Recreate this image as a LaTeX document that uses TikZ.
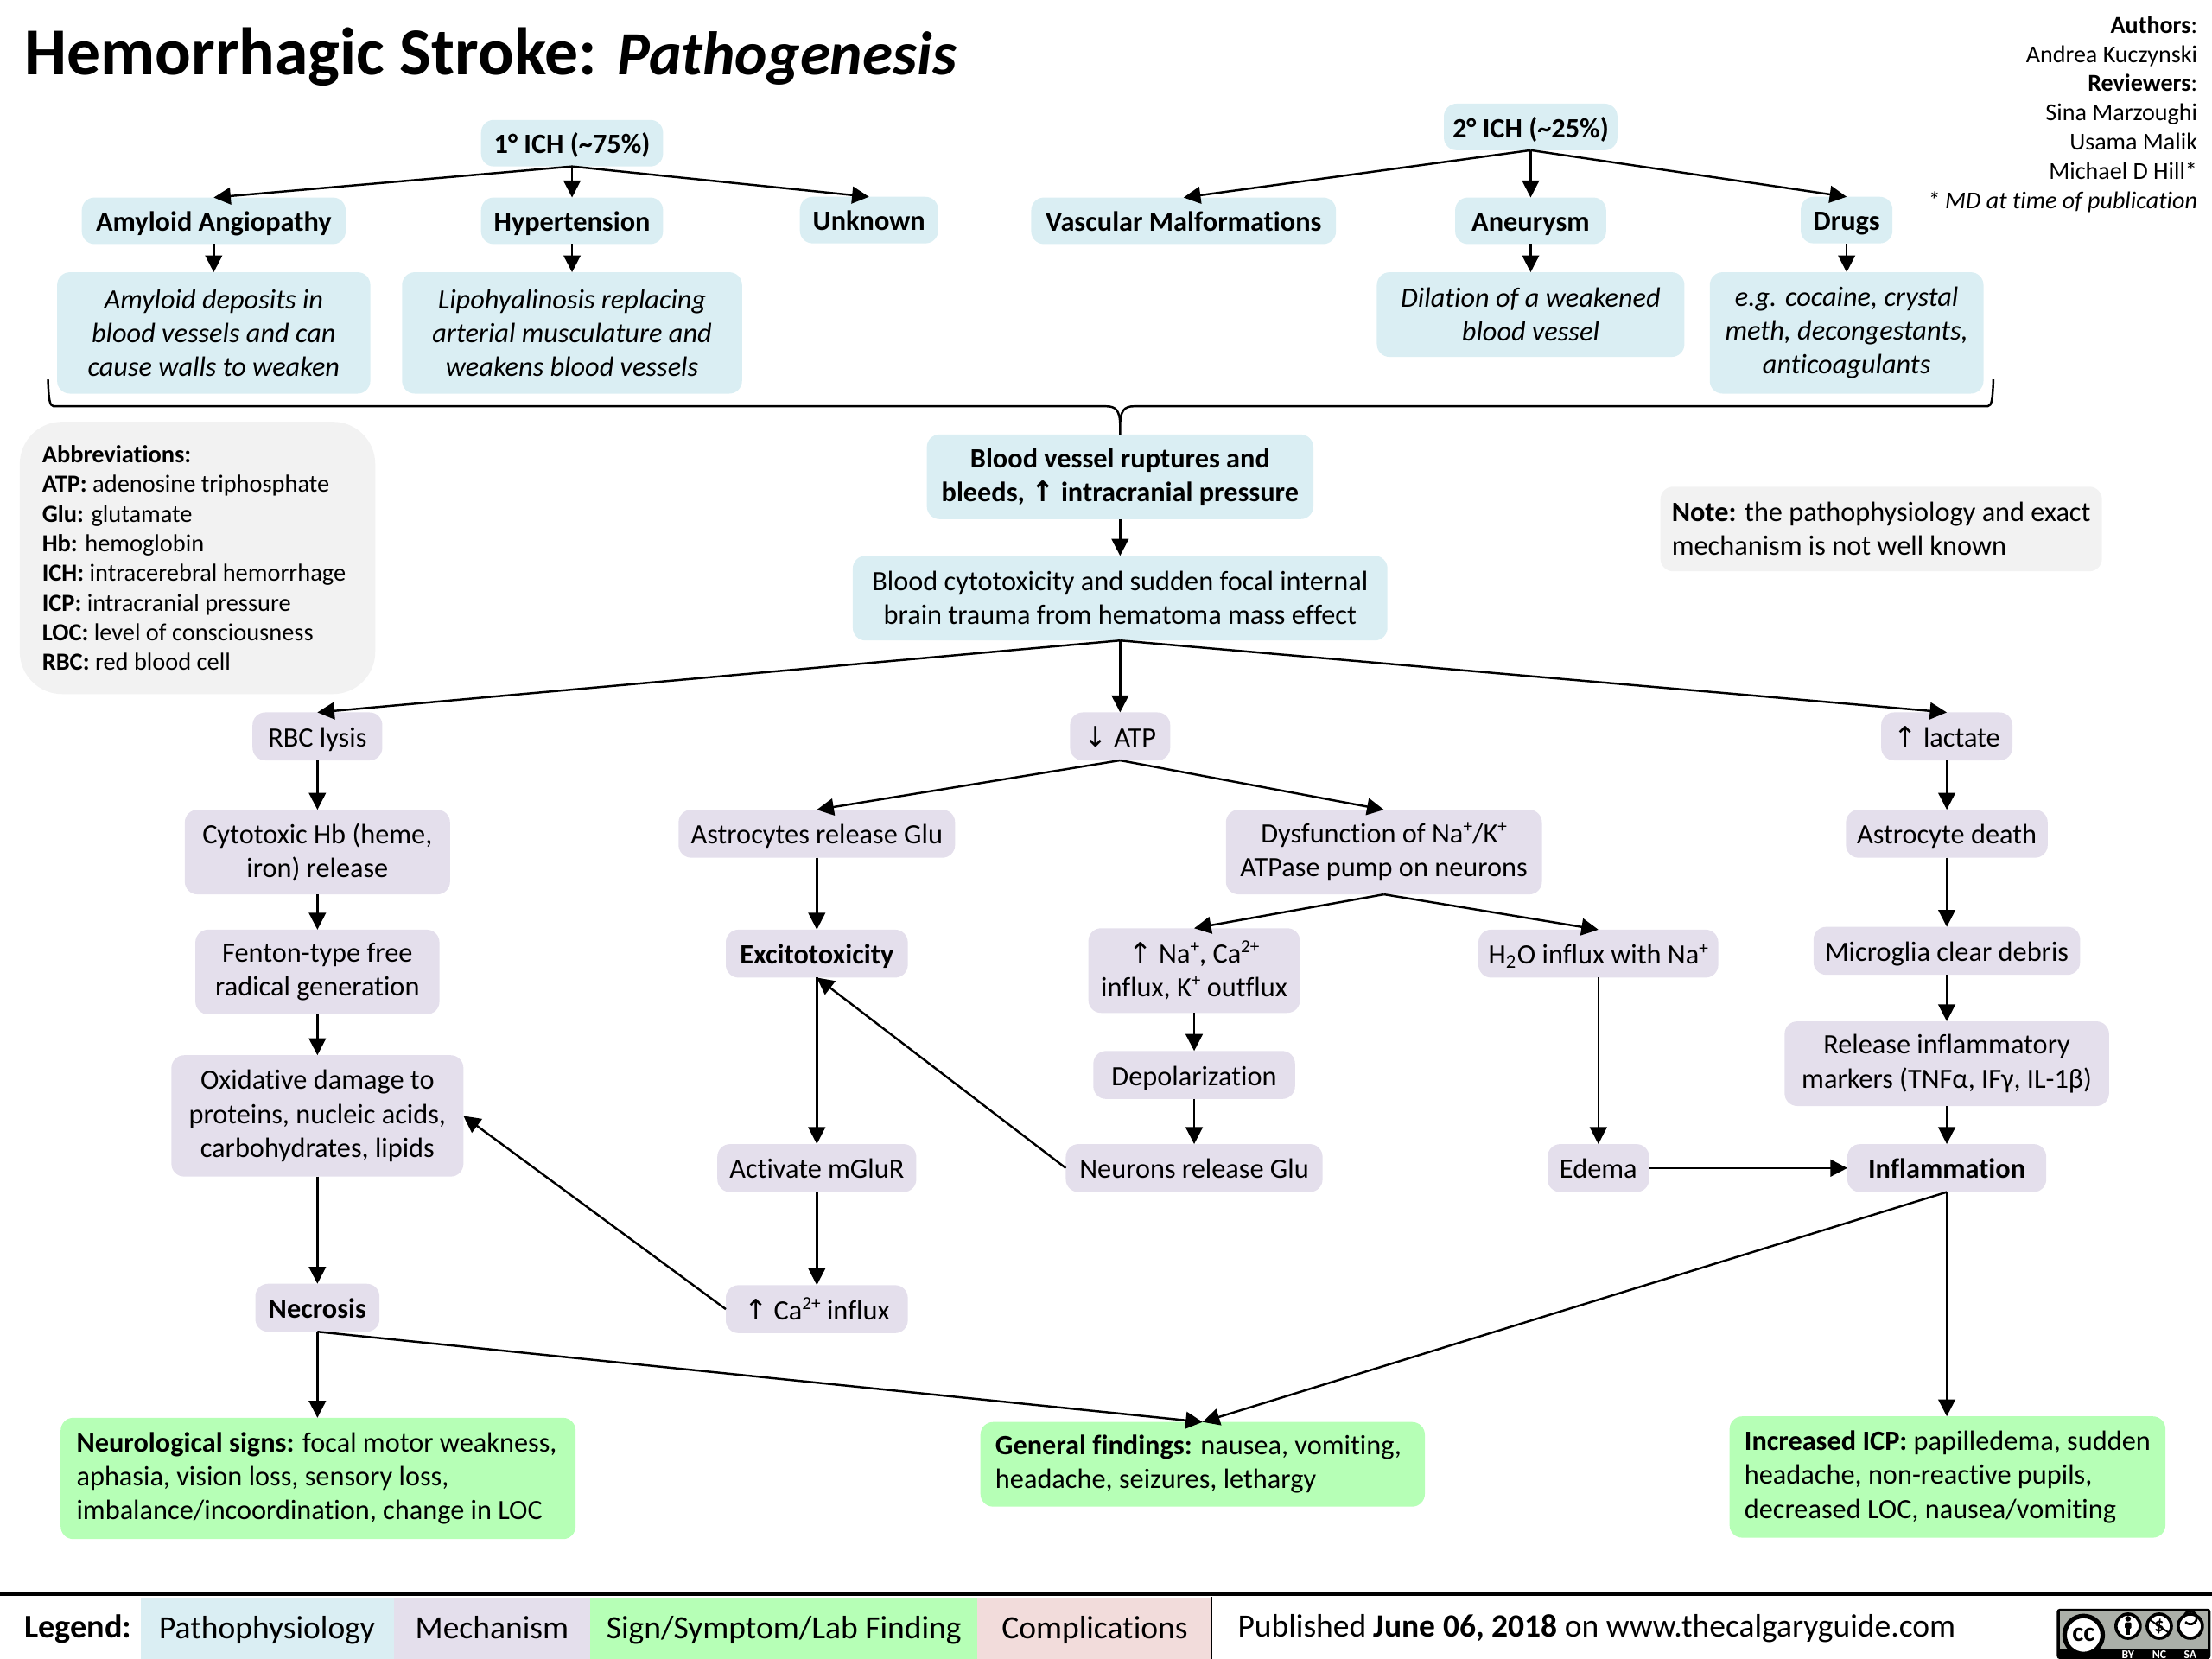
\documentclass[tikz,border=0pt]{standalone}
\usepackage{fontspec}
\setmainfont[Ligatures=NoCommon]{Carlito}
\newfontfamily\symfont{DejaVu Sans}
\usepackage{xcolor}
\usetikzlibrary{arrows.meta, positioning}

\definecolor{pathoblue}{HTML}{DAEEF3}
\definecolor{mechpurple}{HTML}{E4DFEC}
\definecolor{signgreen}{HTML}{B6FFB6}
\definecolor{comppink}{HTML}{F2DCDB}
\definecolor{notegrey}{HTML}{F2F2F2}
\definecolor{badgegrey}{HTML}{ABAFA8}
\newcommand{\arrup}{{\symfont\fontsize{10}{12}\selectfont ↑}}
\newcommand{\arrdown}{{\symfont\fontsize{10}{12}\selectfont ↓}}
\newcommand{\supx}[1]{\raisebox{0.36em}{\fontsize{6.5}{6.5}\selectfont #1}}

\begin{document}
\begin{tikzpicture}[
    x=0.5pt, y=-0.5pt,
    wh/.style 2 args={minimum width=#1*0.5pt, minimum height=#2*0.5pt},
    boxbase/.style={rectangle, rounded corners=4.5pt, inner sep=0pt, outer sep=0pt, align=center,
        font=\fontsize{9.9}{12}\selectfont},
    oneline/.style={text height=9.7pt, text depth=2.3pt},
    patho/.style={boxbase, fill=pathoblue},
    pathobf/.style={patho, font=\fontsize{9.9}{12}\selectfont\bfseries},
    pathohead/.style={pathobf, oneline},
    pathoit/.style={patho, font=\fontsize{9.9}{12}\selectfont\itshape},
    mech/.style={boxbase, fill=mechpurple},
    mechline/.style={mech, oneline},
    mechbf/.style={mechline, font=\fontsize{9.9}{12}\selectfont\bfseries},
    signbox/.style={boxbase, fill=signgreen, align=left},
    greybox/.style={boxbase, fill=notegrey, align=left},
    legendcell/.style={rectangle, inner sep=0pt, outer sep=0pt, minimum height=21.7pt,
        text height=10.8pt, text depth=3.2pt, font=\fontsize{11.5}{14}\selectfont},
    ccring/.style={circle, draw=black, line width=1.1pt, fill=white, minimum size=8.6pt, inner sep=0pt},
    cclabel/.style={text=white, inner sep=0pt, font=\fontsize{4.2}{4.2}\selectfont\bfseries},
    arrow/.style={-{Triangle[length=6pt,width=6pt]}, line width=0.75pt}
]
\useasboundingbox (0,0) rectangle (1568,1176);

% title and credits
\node[anchor=base west, inner sep=0pt, font=\fontsize{23.8}{28}\selectfont\bfseries] (title) at (17,53) {Hemorrhagic Stroke: \textit{\fontsize{21.8}{28}\selectfont Pathogenesis}};
\node[anchor=north east, inner sep=0pt, align=right, font=\fontsize{8.6}{10.35}\selectfont] (authors) at (1558,11)
    {\textbf{Authors}:\\Andrea Kuczynski\\\textbf{Reviewers}:\\Sina Marzoughi\\Usama Malik\\Michael D Hill*\\\textit{* MD at time of publication}};

% causes
\node[pathohead, wh={129}{33}] (ich1) at (405.5,101.5) {1° ICH (\textasciitilde75\%)};
\node[pathohead, wh={123}{33}] (ich2) at (1085,90) {2° ICH (\textasciitilde25\%)};
\node[pathohead, wh={187}{33}] (amyloid) at (151.5,156.5) {Amyloid Angiopathy};
\node[pathohead, wh={129}{33}] (hypertension) at (405.5,156.5) {Hypertension};
\node[pathohead, wh={98}{33}] (unknown) at (616,156) {Unknown};
\node[pathohead, wh={216}{33}] (malformations) at (839,156.5) {Vascular Malformations};
\node[pathohead, wh={107}{33}] (aneurysm) at (1085,156.5) {Aneurysm};
\node[pathohead, wh={65}{33}] (drugs) at (1309,156) {Drugs};
\node[pathoit, wh={222}{86}] (deposits) at (151.5,236) {Amyloid deposits in\\blood vessels and can\\cause walls to weaken};
\node[pathoit, wh={241}{86}] (lipo) at (405.5,236) {Lipohyalinosis replacing\\arterial musculature and\\weakens blood vessels};
\node[pathoit, wh={218}{60}] (dilation) at (1085,223) {Dilation of a weakened\\blood vessel};
\node[pathoit, wh={194}{86}] (egdrugs) at (1309,236) {e.g. cocaine, crystal\\meth, decongestants,\\anticoagulants};

% brace under the causes
\coordinate (braceL) at (34,269);
\coordinate (braceR) at (1413,269);
\coordinate (braceM) at (794,302);
\node[pathobf, wh={274}{60}] (rupture) at (794,338) {Blood vessel ruptures and\\bleeds, \arrup{} intracranial pressure};
\draw[line width=0.75pt] (braceL) .. controls (34.5,282) and (35,288) .. (38,288) -- (784,288)
    .. controls (791,288) and (794,291) .. (braceM) -- (rupture.north)
    (braceM) .. controls (794,291) and (797,288) .. (804,288) -- (1409,288)
    .. controls (1412,288) and (1412.5,282) .. (braceR);

% side notes
\node[greybox, wh={252}{193}, rounded corners=15pt, font=\fontsize{8.7}{10.5}\selectfont] (abbrev) at (140,395.5)
    {\textbf{Abbreviations:}\\\textbf{ATP:} adenosine triphosphate\\\textbf{Glu:} glutamate\\\textbf{Hb:} hemoglobin\\\textbf{ICH:} intracerebral hemorrhage\kern2.5pt\\\textbf{ICP:} intracranial pressure\\\textbf{LOC:} level of consciousness\\\textbf{RBC:} red blood cell};
\node[greybox, wh={313}{60}] (note) at (1333.5,375) {\textbf{Note:} the pathophysiology and exact\\mechanism is not well known};

\node[patho, wh={379}{60}] (trauma) at (794,424) {Blood cytotoxicity and sudden focal internal\\brain trauma from hematoma mass effect};

% RBC column
\node[mechline, wh={92}{34}] (rbc) at (225,522) {RBC lysis};
\node[mech, wh={188}{60}] (cytotoxic) at (225,604) {Cytotoxic Hb (heme,\\iron) release};
\node[mech, wh={173}{60}] (fenton) at (225,689) {Fenton-type free\\radical generation};
\node[mech, wh={207}{86}] (oxidative) at (225,791) {Oxidative damage to\\proteins, nucleic acids,\\carbohydrates, lipids};
\node[mechbf, wh={88}{34}] (necrosis) at (225,927) {Necrosis};

% ATP columns
\node[mechline, wh={71}{34}] (atp) at (794,522) {\arrdown{} ATP};
\node[mechline, wh={196}{34}] (astroglu) at (579,591) {Astrocytes release Glu};
\node[mechbf, wh={129}{34}] (excito) at (579,676) {Excitotoxicity};
\node[mechline, wh={141}{34}] (mglur) at (579,828) {Activate mGluR};
\node[mechline, wh={129}{34}] (calcium) at (579,928) {\arrup{} Ca\supx{2+} influx};
\node[mech, wh={224}{60}] (pump) at (981,604) {Dysfunction of Na\supx{+}/K\supx{+}\\ATPase pump on neurons};
\node[mech, wh={150}{60}] (influx) at (846.5,688) {\arrup{} Na\supx{+}, Ca\supx{2+}\\influx, K\supx{+} outflux};
\node[mechline, wh={143}{34}] (depol) at (846.5,762) {Depolarization};
\node[mechline, wh={182}{34}] (neuronglu) at (846.5,828) {Neurons release Glu};
\node[mechline, wh={170}{34}] (water) at (1133,676) {H\textsubscript{2}O influx with Na\supx{+}};
\node[mechline, wh={72}{34}] (edema) at (1133,828) {Edema};

% lactate column
\node[mechline, wh={93}{34}] (lactate) at (1380,522) {\arrup{} lactate};
\node[mechline, wh={143}{34}] (astrodeath) at (1380,591) {Astrocyte death};
\node[mechline, wh={189}{34}] (microglia) at (1380,674) {Microglia clear debris};
\node[mech, wh={230}{60}] (markers) at (1380,754) {Release inflammatory\\markers (TNFα, IFγ, IL-1β)};
\node[mechbf, wh={141}{34}] (inflammation) at (1380,828) {Inflammation};

% findings
\node[signbox, wh={365}{86}] (neuro) at (225.5,1048) {\textbf{Neurological signs:} focal motor weakness,\kern1pt\\aphasia, vision loss, sensory loss,\\imbalance/incoordination, change in LOC};
\node[signbox, wh={315}{60}] (general) at (852.5,1038) {\textbf{General findings:} nausea, vomiting,\kern3pt\\headache, seizures, lethargy};
\node[signbox, wh={309}{86}] (icp) at (1380.5,1047) {\textbf{Increased ICP:} papilledema, sudden\\headache, non-reactive pupils,\\decreased LOC, nausea/vomiting};

% connectors
\draw[arrow] (ich1.south) -- (amyloid.north);
\draw[arrow] (ich1.south) -- (hypertension.north);
\draw[arrow] (ich1.south) -- (unknown.north);
\draw[arrow] (ich2.south) -- (malformations.north);
\draw[arrow] (ich2.south) -- (aneurysm.north);
\draw[arrow] (ich2.south) -- (drugs.north);
\draw[arrow] (amyloid) -- (deposits);
\draw[arrow] (hypertension) -- (lipo);
\draw[arrow] (aneurysm) -- (dilation);
\draw[arrow] (drugs) -- (egdrugs);
\draw[arrow] (rupture) -- (trauma);
\draw[arrow] (trauma.south) -- (rbc.north);
\draw[arrow] (trauma.south) -- (atp.north);
\draw[arrow] (trauma.south) -- (lactate.north);
\draw[arrow] (rbc) -- (cytotoxic);
\draw[arrow] (cytotoxic) -- (fenton);
\draw[arrow] (fenton) -- (oxidative);
\draw[arrow] (oxidative) -- (necrosis);
\draw[arrow] (necrosis) -- (necrosis |- neuro.north);
\draw[arrow] (necrosis.south) -- (general.north);
\draw[arrow] (atp.south) -- (astroglu.north);
\draw[arrow] (atp.south) -- (pump.north);
\draw[arrow] (astroglu) -- (excito);
\draw[arrow] (excito) -- (mglur);
\draw[arrow] (mglur) -- (calcium);
\draw[arrow] (calcium.west) -- (oxidative.east);
\draw[arrow] (neuronglu.west) -- (excito.south);
\draw[arrow] (pump.south) -- (influx.north);
\draw[arrow] (pump.south) -- (water.north);
\draw[arrow] (influx) -- (depol);
\draw[arrow] (depol) -- (neuronglu);
\draw[arrow] (water) -- (edema);
\draw[arrow] (edema) -- (inflammation);
\draw[arrow] (lactate) -- (astrodeath);
\draw[arrow] (astrodeath) -- (microglia);
\draw[arrow] (microglia) -- (markers);
\draw[arrow] (markers) -- (inflammation);
\draw[arrow] (inflammation.south) -- (general.north);
\draw[arrow] (inflammation.south) -- (inflammation.south |- icp.north);

% legend strip
\coordinate (ruleL) at (0,1130);
\coordinate (ruleR) at (1568,1130);
\draw[line width=1.5pt] (ruleL) -- (ruleR);
\node[anchor=west, inner sep=0pt, font=\fontsize{11.7}{14}\selectfont\bfseries] (legend) at (17,1154.5) {Legend:};
\node[legendcell, fill=pathoblue, minimum width=89.7pt] (lgpatho) at (189.3,1154.3) {Pathophysiology};
\node[legendcell, fill=mechpurple, minimum width=69.75pt] (lgmech) at (348.75,1154.3) {Mechanism};
\node[legendcell, fill=signgreen, minimum width=137.25pt] (lgsign) at (555.75,1154.3) {Sign/Symptom/Lab Finding};
\node[legendcell, fill=comppink, minimum width=83pt] (lgcomp) at (776,1154.3) {Complications};
\coordinate (barT) at (859,1132);
\coordinate (barB) at (859,1176);
\draw[line width=0.6pt] (barT) -- (barB);
\node[anchor=west, inner sep=0pt, font=\fontsize{11.5}{14}\selectfont] (published) at (877,1154.5) {Published \textbf{June 06, 2018} on www.thecalgaryguide.com};

% licence badge
\fill[black, rounded corners=1pt] (1458,1140.4) rectangle (1567,1176);
\fill[badgegrey] (1460,1142.4) rectangle (1565,1169.5);
\node[circle, draw=black, line width=1.6pt, fill=white, minimum size=13.5pt, inner sep=0pt, font=\fontsize{9.5}{9.5}\selectfont\bfseries] (ccmain) at (1477,1159) {cc};
\node[ccring] (ccby) at (1508.5,1152.7) {};
\node[ccring] (ccnc) at (1530.6,1152.7) {\fontsize{7}{7}\selectfont\bfseries\$};
\node[ccring] (ccsa) at (1552.6,1152.7) {};
\fill (1508.5,1147.5) circle (1pt);
\fill[rounded corners=0.4pt] (1506.2,1150) rectangle (1510.8,1154.5);
\fill (1507.4,1154) rectangle (1509.6,1159);
\draw[line width=0.6pt] (1523.6,1148) -- (1537.6,1157.5);
\draw[line width=0.8pt] (ccsa.center) ++(-3.5,-3) arc[start angle=-140, end angle=150, radius=2.3pt];
\node[cclabel] (ccbytext) at (1508.5,1173) {BY};
\node[cclabel] (ccnctext) at (1530.6,1173) {NC};
\node[cclabel] (ccsatext) at (1552.6,1173) {SA};
\end{tikzpicture}
\end{document}
